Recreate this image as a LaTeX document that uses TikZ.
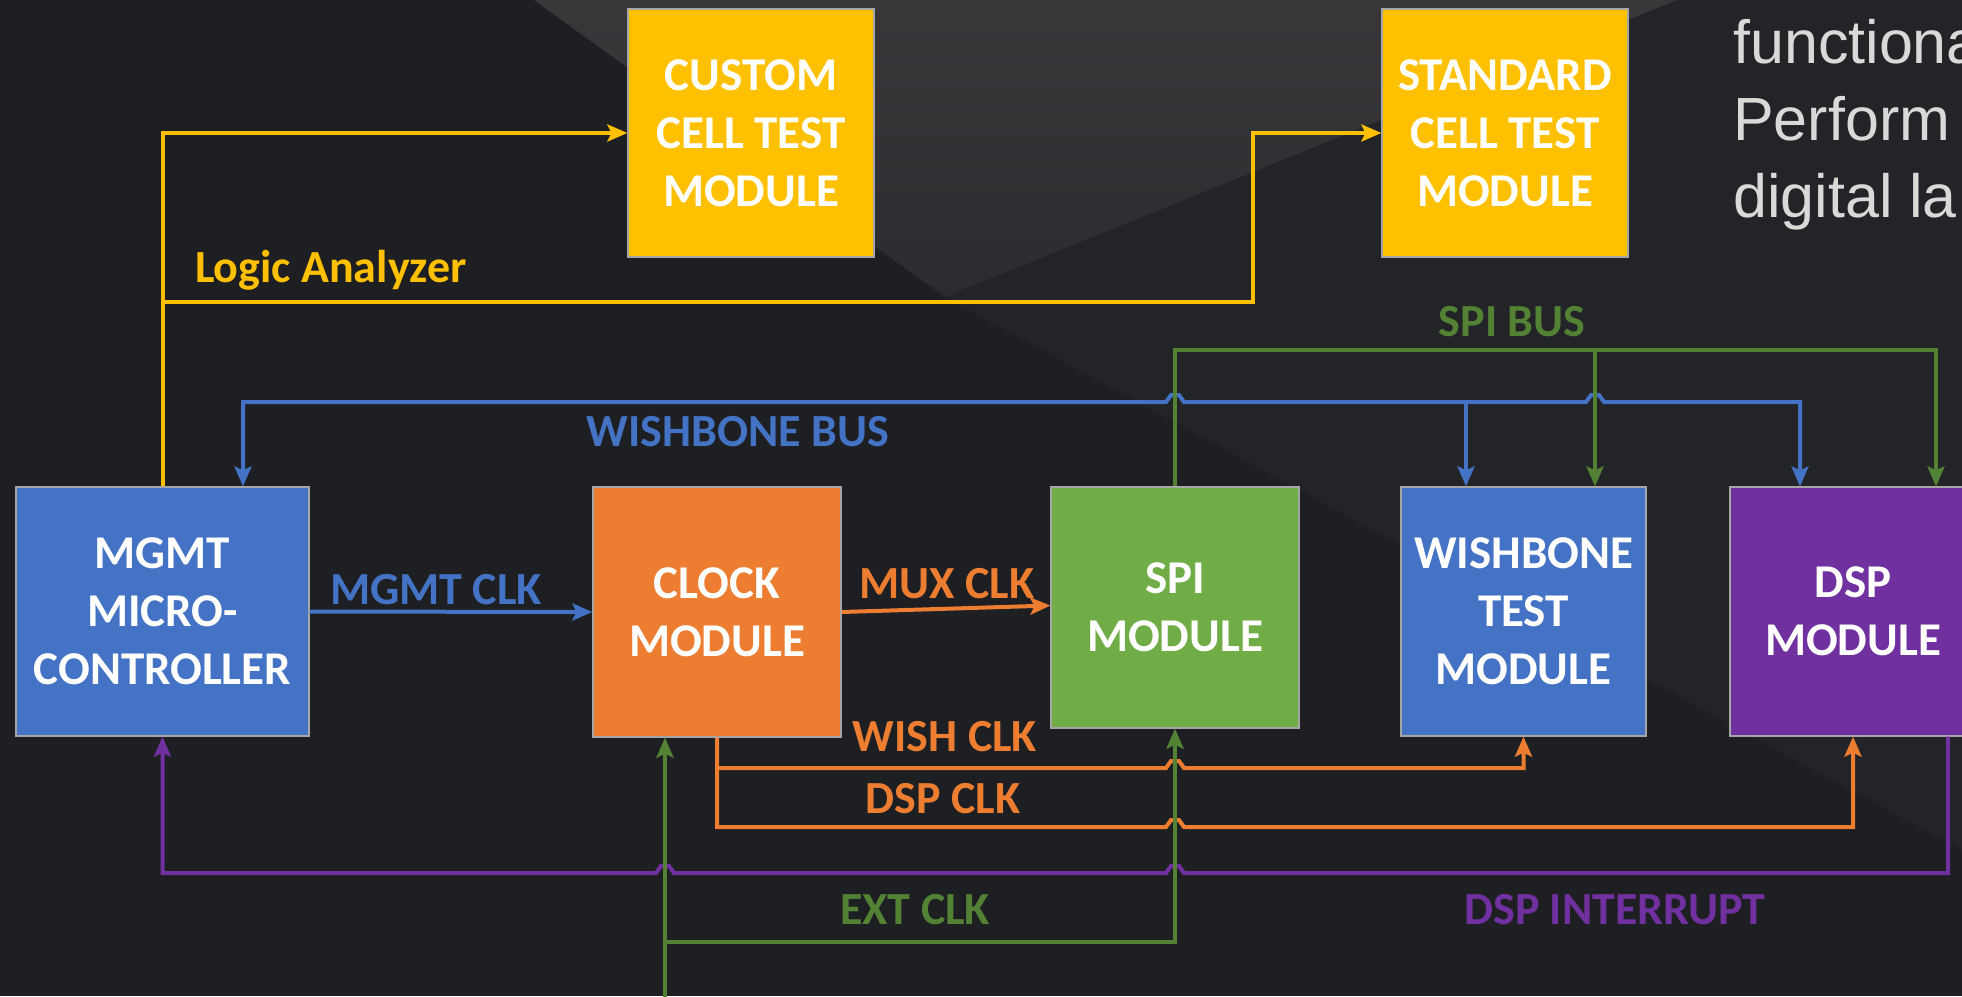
\documentclass[tikz,border=0pt]{standalone}
\usepackage{fontspec}
\newfontfamily\labelfont{Carlito}
\newfontfamily\notefont{Liberation Sans}
\usetikzlibrary{arrows.meta}

\definecolor{bgbase}{HTML}{1E1F22}
\definecolor{bgfacettop}{HTML}{38383B}
\definecolor{bgfacetlow}{HTML}{2B2C2F}
\definecolor{bgside}{HTML}{232427}
\definecolor{ylw}{HTML}{FFC000}
\definecolor{org}{HTML}{ED7D31}
\definecolor{blu}{HTML}{4472C4}
\definecolor{grn}{HTML}{70AD47}
\definecolor{grnline}{HTML}{548235}
\definecolor{prp}{HTML}{7030A0}
\definecolor{edge}{HTML}{A6A6A6}
\definecolor{notegray}{HTML}{D9D9D9}

% small hop where a horizontal wire crosses a vertical one
\newcommand\hopR[2]{-- ({#1-9},#2) -- ({#1-4},{#2-7}) -- ({#1+4},{#2-7}) -- ({#1+9},#2)}
\newcommand\hopL[2]{-- ({#1+9},#2) -- ({#1+4},{#2-7}) -- ({#1-4},{#2-7}) -- ({#1-9},#2)}

\tikzset{
  block/.style={draw=edge, line width=1.2pt, align=center, text=white, inner sep=0pt,
    font=\labelfont\bfseries\fontsize{47}{58}\selectfont},
  wire/.style={line width=4pt, line join=miter},
  arr/.style={-{Stealth[length=20pt,width=17pt,inset=4pt]}},
  lbl/.style={inner sep=0pt, font=\labelfont\bfseries\fontsize{46}{55}\selectfont},
  note/.style={inner sep=0pt, text=notegray, font=\notefont\fontsize{61}{77}\selectfont}
}

\begin{document}
\begin{tikzpicture}[x=1pt,y=-1pt]
\useasboundingbox (0,0) rectangle (1962,996);

% faceted dark backdrop
\fill[bgbase] (0,0) rectangle (1962,996);
\fill[bgside] (1677,0) -- (1962,0) -- (1962,850) -- (945,297) -- cycle;
\shade[top color=bgfacettop, bottom color=bgfacetlow] (534,0) -- (1677,0) -- (945,297) -- cycle;

% blocks
\node[block, fill=ylw, minimum width=246pt, minimum height=248pt] (custom) at (751,133) {CUSTOM\\CELL TEST\\MODULE};
\node[block, fill=ylw, minimum width=246pt, minimum height=248pt] (std) at (1505,133) {STANDARD\\CELL TEST\\MODULE};
\node[block, fill=blu, minimum width=293pt, minimum height=249pt] (mgmt) at (162.5,611.5) {MGMT\\MICRO-\\CONTROLLER};
\node[block, fill=org, minimum width=248pt, minimum height=250pt] (clock) at (717,612) {CLOCK\\MODULE};
\node[block, fill=grn, minimum width=248pt, minimum height=241pt] (spi) at (1175,607.5) {SPI\\MODULE};
\node[block, fill=blu, minimum width=245pt, minimum height=249pt] (wbt) at (1523.5,611.5) {WISHBONE\\TEST\\MODULE};
\node[block, fill=prp, minimum width=246pt, minimum height=249pt] (dsp) at (1853,611.5) {DSP\\MODULE};

% bend points
\coordinate (la) at (162.5,302);
\coordinate (laR) at (1253,302);
\coordinate (wbL) at (243,402);
\coordinate (wbM) at (1466,402);
\coordinate (wbR) at (1800,402);
\coordinate (sbL) at (1175,350);
\coordinate (sbM) at (1595,350);
\coordinate (sbR) at (1936,350);
\coordinate (wc) at (717,768);
\coordinate (dc) at (717,827);
\coordinate (extin) at (665,1010);
\coordinate (ext) at (665,942);
\coordinate (irq) at (1948,873);

% logic analyzer taps
\draw[wire, ylw, arr] (mgmt.north) |- (custom.west);
\draw[wire, ylw, arr] (la) -- (laR) |- (std.west);

% wishbone bus
\draw[wire, blu, {Stealth[length=20pt,width=17pt,inset=4pt]}-{Stealth[length=20pt,width=17pt,inset=4pt]}]
  (wbL |- mgmt.north) -- (wbL) \hopR{1175}{402} \hopR{1595}{402} -- (wbR) -- (wbR |- dsp.north);
\draw[wire, blu, arr] (wbM) -- (wbM |- wbt.north);

% clocks
\draw[wire, blu, arr] (mgmt.east) -- (clock.west);
\draw[wire, org, arr] (clock.east) -- ([yshift=2pt]spi.west);
\draw[wire, org, arr] (clock.south) -- (dc) \hopR{1175}{827} -- (dc -| dsp.south) -- (dsp.south);
\draw[wire, org, arr] (wc) \hopR{1175}{768} -- (wc -| wbt.south) -- (wbt.south);

% interrupt line
\draw[wire, prp, arr] ([xshift=95pt]dsp.south) -- (irq) \hopL{1175}{873} \hopL{665}{873} -- (mgmt.south |- irq) -- (mgmt.south);

% spi bus
\draw[wire, grnline, arr] (spi.north) -- (sbL) -- (sbR) -- (sbR |- dsp.north);
\draw[wire, grnline, arr] (sbM) -- (sbM |- wbt.north);

% external clock
\draw[wire, grnline, arr] (extin) -- (extin |- clock.south);
\draw[wire, grnline, arr] (ext) -- (ext -| spi.south) -- (spi.south);

% wire labels
\node[lbl, text=ylw, anchor=base west] (lLA) at (195,282) {Logic Analyzer};
\node[lbl, text=blu] (lWB) at (738,432) {WISHBONE BUS};
\node[lbl, text=grnline] (lSB) at (1512,322) {SPI BUS};
\node[lbl, text=blu] (lMC) at (436,590) {MGMT CLK};
\node[lbl, text=org] (lMX) at (947,584) {MUX CLK};
\node[lbl, text=org] (lWC) at (945,737) {WISH CLK};
\node[lbl, text=org] (lDC) at (943,799) {DSP CLK};
\node[lbl, text=grnline] (lEC) at (915,910) {EXT CLK};
\node[lbl, text=prp] (lDI) at (1615,910) {DSP INTERRUPT};

% side notes
\node[note, anchor=base west] (n1) at (1733,63) {functiona};
\node[note, anchor=base west] (n2) at (1733,140) {Perform};
\node[note, anchor=base west] (n3) at (1733,217) {digital la};
\end{tikzpicture}
\end{document}
